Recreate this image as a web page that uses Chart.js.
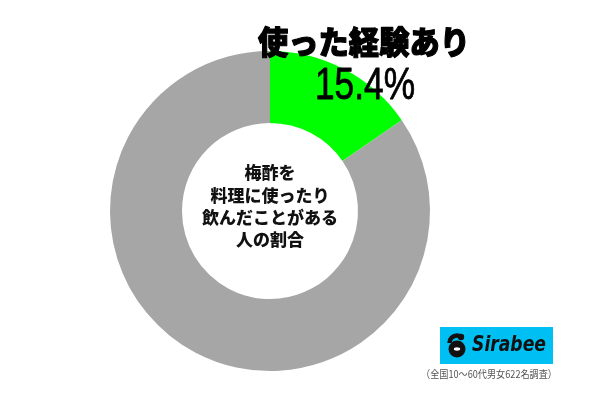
<!DOCTYPE html>
<html>
<head>
<meta charset="utf-8">
<script src="https://cdn.jsdelivr.net/npm/chart.js@4.4.0/dist/chart.umd.min.js"></script>
<style>
html,body{margin:0;padding:0;background:#fff;}
#wrap{width:600px;height:400px;position:relative;}
</style>
</head>
<body>
<div id="wrap"><canvas id="c" width="600" height="400"></canvas></div>
<script>
const categories = ["使った経験あり", "使った経験なし"];
const values = [15.4, 84.6];
const colors = ["#00ff00", "#a6a6a6"];
const highlightLabel = "使った経験あり";
const highlightValue = "15.4%";
const centerLines = ["梅酢を", "料理に使ったり", "飲んだことがある", "人の割合"];
const footnote = "（全国10〜60代男女622名調査）";
const brand = "Sirabee";

const jpFont = '"Noto Sans CJK JP", "Noto Sans", sans-serif';

function fitText(ctx, text, cx, cy, width, stroke) {
  const w = ctx.measureText(text).width;
  ctx.save();
  ctx.translate(cx, cy);
  ctx.scale(width / w, 1);
  ctx.fillText(text, 0, 0);
  if (stroke) {
    ctx.lineWidth = stroke;
    ctx.strokeStyle = ctx.fillStyle;
    ctx.lineJoin = 'round';
    ctx.strokeText(text, 0, 0);
  }
  ctx.restore();
}

const overlay = {
  id: 'overlay',
  afterDraw(chart) {
    const ctx = chart.ctx;
    const meta = chart.getDatasetMeta(0);
    const arc = meta.data[0];
    const cx = arc.x, cy = arc.y;
    ctx.save();
    // center text
    ctx.fillStyle = '#111';
    ctx.textAlign = 'center';
    ctx.textBaseline = 'middle';
    ctx.font = '900 17px ' + jpFont;
    centerLines.forEach((t, i) => {
      ctx.fillText(t, cx, cy - 38 + i * 22.3);
    });
    // highlight label
    ctx.font = '900 32px ' + jpFont;
    ctx.fillStyle = '#000';
    fitText(ctx, highlightLabel, 364, 42, 212, 1.2);
    ctx.font = '45px "Liberation Sans", sans-serif';
    fitText(ctx, highlightValue, 365, 87, 100, 0.8);
    // logo
    ctx.fillStyle = '#00bff3';
    ctx.fillRect(440, 327, 113, 37);
    ctx.fillStyle = '#111';
    // icon
    ctx.beginPath();
    ctx.arc(457, 349, 8.5, 0, Math.PI * 2);
    ctx.fill();
    ctx.lineWidth = 4.5;
    ctx.strokeStyle = '#111';
    ctx.beginPath();
    ctx.arc(457, 343, 7.5, Math.PI * 1.0, Math.PI * 1.75);
    ctx.stroke();
    ctx.beginPath();
    ctx.arc(461, 337, 3.2, 0, Math.PI * 2);
    ctx.fill();
    ctx.fillStyle = '#fff';
    ctx.beginPath();
    ctx.ellipse(457, 349, 3.2, 1.7, 0, 0, Math.PI * 2);
    ctx.fill();
    ctx.fillStyle = '#111';
    ctx.textAlign = 'center';
    ctx.font = 'italic bold 21px "DejaVu Sans", sans-serif';
    fitText(ctx, brand, 509, 346, 74);
    // footnote
    ctx.fillStyle = '#555';
    ctx.textAlign = 'center';
    ctx.font = '10.5px ' + jpFont;
    fitText(ctx, footnote, 489, 374, 136);
    ctx.restore();
  }
};

new Chart(document.getElementById('c'), {
  type: 'doughnut',
  data: {
    labels: categories,
    datasets: [{
      data: values,
      backgroundColor: colors,
      borderWidth: 0,
      hoverOffset: 0,
      offset: 0
    }]
  },
  options: {
    responsive: false,
    animation: false,
    events: [],
    cutout: '55%',
    layout: { padding: { left: 110, right: 170, top: 51, bottom: 29 } },
    plugins: {
      legend: { display: false },
      tooltip: { enabled: false },
      title: { display: false }
    }
  },
  plugins: [overlay]
});
</script>
</body>
</html>
